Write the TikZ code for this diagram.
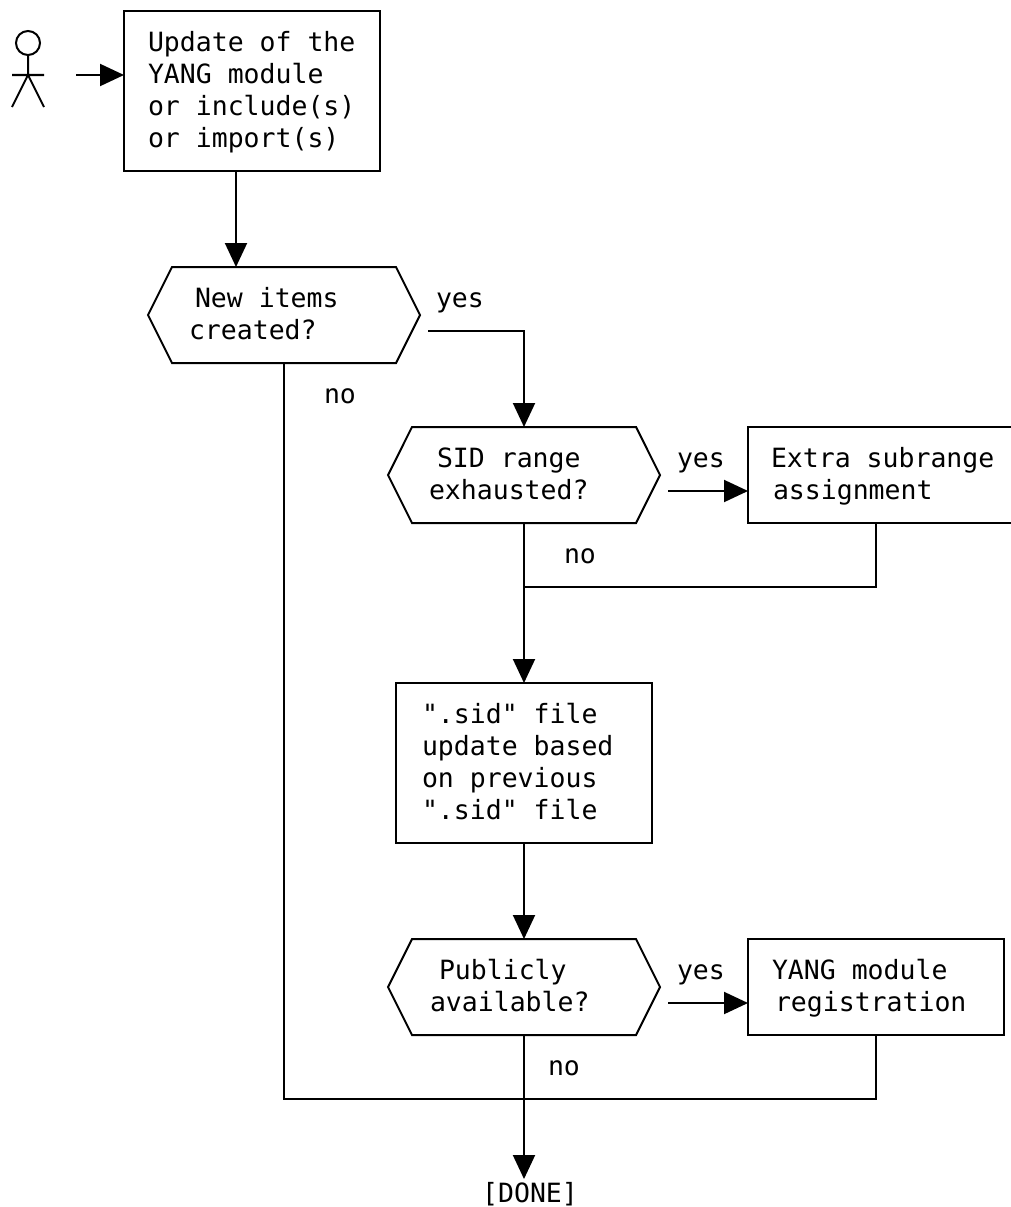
\documentclass[tikz,border=0pt]{standalone}
\usepackage{fontspec}
\setmonofont{DejaVu Sans Mono}
\usetikzlibrary{arrows.meta,shapes.symbols}
\newcommand\tb[3]{\rlap{\hspace*{#1}\smash{\raisebox{#2}{\begin{tabular}[t]{@{}l@{}}#3\end{tabular}}}}}
\tikzset{
  every node/.style={font=\ttfamily\fontsize{26.5}{32}\selectfont,inner sep=0pt,outer sep=0pt},
  ln/.style={line width=2pt,line join=miter,black},
  flow/.style={ln,-{Triangle[length=24pt,width=22pt]}},
  procbox/.style={draw,line width=2pt,rectangle,minimum width=256pt},
  hexbox/.style={draw,line width=2pt,signal,signal to=west and east,signal pointer angle=126.87,minimum width=272pt,minimum height=96pt},
  lbl/.style={anchor=base west}
}
\begin{document}
\begin{tikzpicture}[x=1pt,y=-1pt]
\clip (0,0) rectangle (1011,1207);
\fill[white] (0,0) rectangle (1011,1207);
% actor
\draw[ln] (28,43) circle (12);
\draw[ln] (28,55) -- (28,75) (12,75) -- (44,75) (12,107) -- (28,75) -- (44,107);
\coordinate (actorout) at (76,75);
% shapes
\node[procbox,minimum height=160pt] (b1) at (252,91) {\tb{-104pt}{39.5pt}{Update of the\\YANG module\\or include(s)\\or import(s)}};
\node[hexbox] (h1) at (284,315) {\tb{-95pt}{8pt}{\hspace*{6pt}New items\\created?}};
\node[hexbox] (h2) at (524,475) {\tb{-95pt}{8pt}{\hspace*{8pt}SID range\\exhausted?}};
\node[procbox,minimum width=264pt,minimum height=96pt] (b2) at (880,475) {\tb{-109pt}{8pt}{Extra subrange\\\hspace*{2pt}assignment}};
\node[procbox,minimum height=160pt] (b3) at (524,763) {\tb{-102pt}{40pt}{".sid" file\\update based\\on previous\\".sid" file}};
\node[hexbox] (h3) at (524,987) {\tb{-94pt}{8pt}{\hspace*{9pt}Publicly\\available?}};
\node[procbox,minimum height=96pt] (b4) at (876,987) {\tb{-104pt}{8pt}{YANG module\\\hspace*{3pt}registration}};
\node[anchor=north,text height=23pt,text depth=0pt] (done) at (530,1179) {[DONE]};
% labels
\node[lbl] (l1) at (436,307) {yes};
\node[lbl] (l2) at (324,403) {no};
\node[lbl] (l3) at (677,467) {yes};
\node[lbl] (l4) at (564,563) {no};
\node[lbl] (l5) at (677,979) {yes};
\node[lbl] (l6) at (548,1075) {no};
% junctions
\coordinate (m1) at (524,587);
\coordinate (m2) at (876,1099);
% connectors
\draw[flow] (actorout) -- ([yshift=16pt]b1.west);
\draw[flow] ([xshift=-16pt]b1.south) -- ([xshift=-48pt]h1.north);
\draw[flow] ([shift={(8,16)}]h1.east) -| (h2.north);
\draw[flow] ([shift={(8,16)}]h2.east) -- ([yshift=-16pt]b2.west);
\draw[flow] (h2.south) -- (b3.north);
\draw[ln] ([xshift=-4pt]b2.south) |- (m1);
\draw[flow] (b3.south) -- (h3.north);
\draw[flow] ([shift={(8,16)}]h3.east) -- ([yshift=-16pt]b4.west);
\draw[flow] (h3.south) -- (h3.south |- done.north);
\draw[ln] (b4.south) -- (m2) -| (h1.south);
\end{tikzpicture}
\end{document}
